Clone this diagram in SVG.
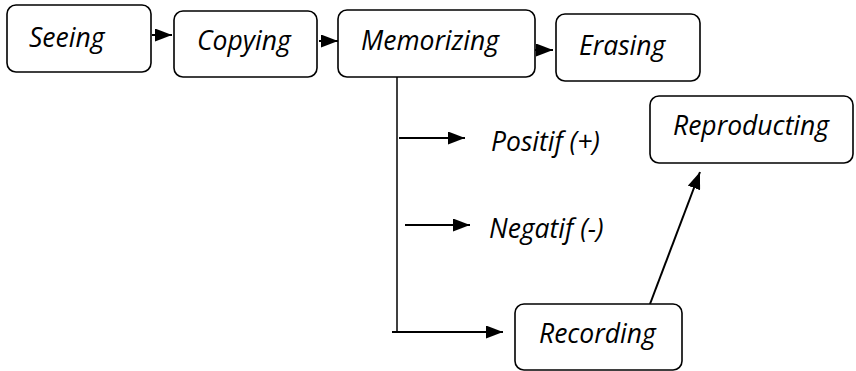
<svg xmlns="http://www.w3.org/2000/svg" width="856" height="371" viewBox="0 0 856 371">
<defs>
<marker id="ahl" viewBox="0 0 10 10" refX="10" refY="5" markerWidth="17" markerHeight="13" markerUnits="userSpaceOnUse" orient="auto" preserveAspectRatio="none">
<path d="M0,0 L10,5 L0,10 z" fill="#000"/>
</marker>
<style>
.box{fill:#fff;stroke:#000;stroke-width:1.6}
.t{font-family:"Open Sans","Noto Sans",sans-serif;font-style:italic;font-size:26.5px;fill:#000}
.c{stroke:#000;stroke-width:1.5;fill:none}
.a{stroke:#000;stroke-width:2;fill:none}
</style>
</defs>
<g id="connectors">
<line class="a" x1="152" y1="35" x2="172" y2="35" marker-end="url(#ahl)"/>
<line class="a" x1="319" y1="41" x2="338" y2="41" marker-end="url(#ahl)"/>
<line class="a" x1="533" y1="50" x2="553" y2="50" marker-end="url(#ahl)"/>
<line class="c" x1="397" y1="77" x2="397" y2="332"/>
<line class="a" x1="392" y1="332" x2="503" y2="332" marker-end="url(#ahl)"/>
<line class="a" x1="399" y1="138" x2="465" y2="138" marker-end="url(#ahl)"/>
<line class="a" x1="405" y1="225" x2="470" y2="225" marker-end="url(#ahl)"/>
<line class="a" x1="650" y1="304" x2="700" y2="172" marker-end="url(#ahl)"/>
</g>
<g id="seeing"><rect class="box" x="7" y="5" width="144" height="67" rx="9"/><text class="t" x="29" y="47">Seeing</text></g>
<g id="copying"><rect class="box" x="174" y="11" width="143" height="66" rx="9"/><text class="t" x="197" y="50">Copying</text></g>
<g id="memorizing"><rect class="box" x="338" y="10" width="197" height="67" rx="9"/><text class="t" x="361" y="50">Memorizing</text></g>
<g id="erasing"><rect class="box" x="556" y="14" width="144" height="67" rx="9"/><text class="t" x="579" y="55">Erasing</text></g>
<g id="reproducting"><rect class="box" x="650" y="96" width="203" height="67" rx="9"/><text class="t" x="673" y="135">Reproducting</text></g>
<g id="recording"><rect class="box" x="515" y="304" width="167" height="66" rx="9"/><text class="t" x="539" y="343">Recording</text></g>
<g id="positif"><text class="t" x="491" y="151">Positif (+)</text></g>
<g id="negatif"><text class="t" x="489" y="238">Negatif (-)</text></g>
</svg>
